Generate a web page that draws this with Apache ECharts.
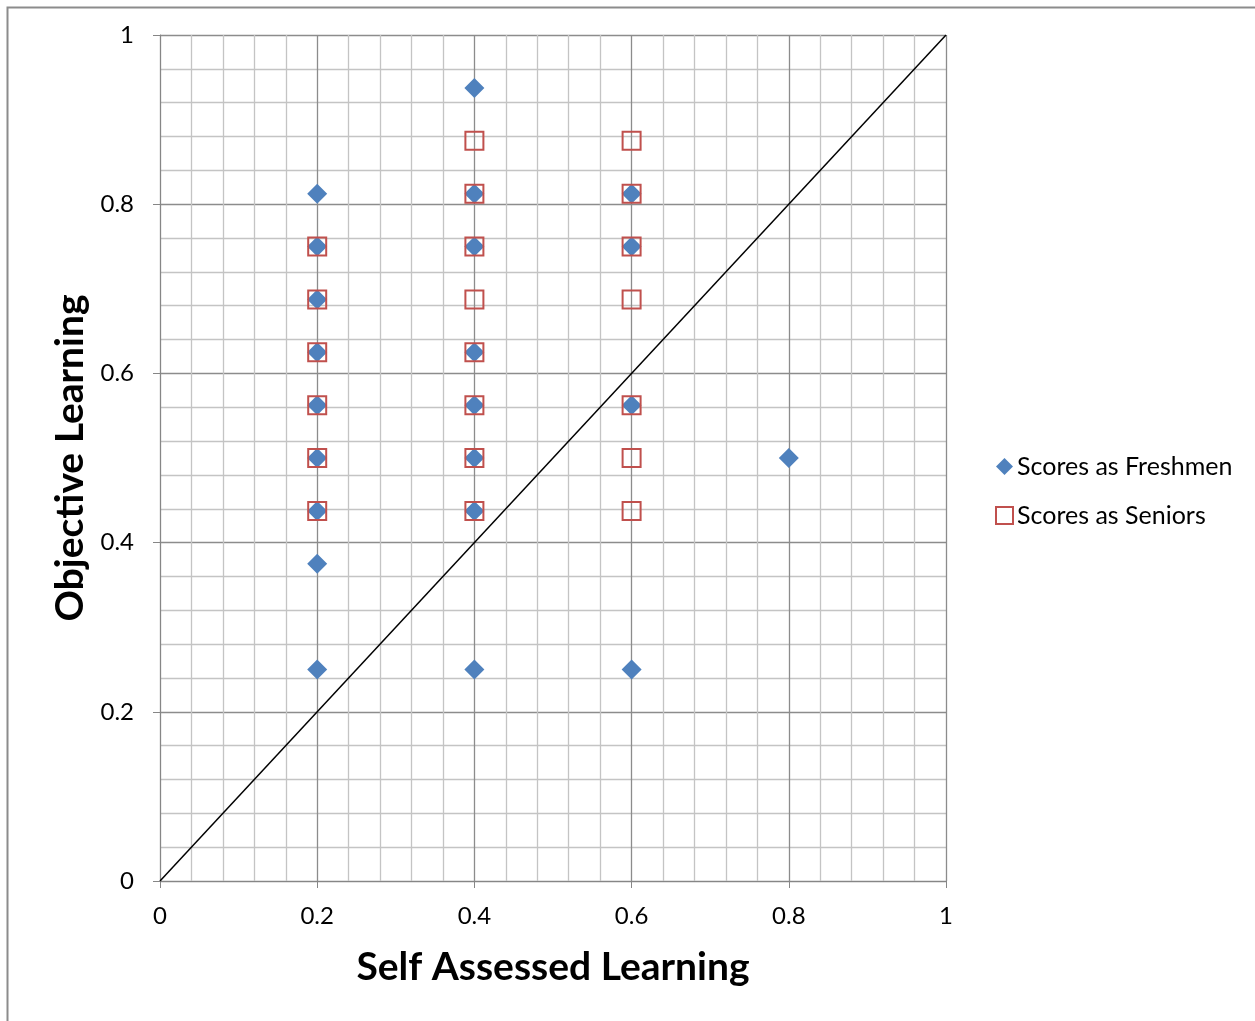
<!DOCTYPE html>
<html>
<head>
<meta charset="utf-8">
<script src="https://cdn.jsdelivr.net/npm/echarts@6/dist/echarts.min.js"></script>
<style>
html,body{margin:0;padding:0;background:#fff;}
#chart{width:1255px;height:1021px;}
</style>
</head>
<body>
<div id="chart"></div>
<script>
// Data
const freshmenX = [0.2,0.2,0.2,0.2,0.2,0.2,0.2,0.2,0.2, 0.4,0.4,0.4,0.4,0.4,0.4,0.4,0.4, 0.6,0.6,0.6,0.6, 0.8];
const freshmenY = [0.8125,0.75,0.6875,0.625,0.5625,0.5,0.4375,0.375,0.25, 0.9375,0.8125,0.75,0.625,0.5625,0.5,0.4375,0.25, 0.8125,0.75,0.5625,0.25, 0.5];
const seniorsX = [0.2,0.2,0.2,0.2,0.2,0.2, 0.4,0.4,0.4,0.4,0.4,0.4,0.4,0.4, 0.6,0.6,0.6,0.6,0.6,0.6,0.6];
const seniorsY = [0.75,0.6875,0.625,0.5625,0.5,0.4375, 0.875,0.8125,0.75,0.6875,0.625,0.5625,0.5,0.4375, 0.875,0.8125,0.75,0.6875,0.5625,0.5,0.4375];
const diagonalX = [0, 1];
const diagonalY = [0, 1];
const seriesNames = ['Scores as Freshmen', 'Scores as Seniors'];
const xTitle = 'Self Assessed Learning';
const yTitle = 'Objective Learning';

const zip = (a, b) => a.map((v, i) => [v, b[i]]);
const FONT = 'Lato, "Open Sans", sans-serif';

const chart = echarts.init(document.getElementById('chart'));
const axisCommon = {
  type: 'value', min: 0, max: 1, interval: 0.2,
  nameLocation: 'middle',
  nameTextStyle: { fontFamily: FONT, fontSize: 39, fontWeight: 'bold', color: '#000' },
  axisLine: { show: true, lineStyle: { color: '#868686', width: 1 } },
  axisTick: { show: true, inside: false, length: 7, lineStyle: { color: '#868686' } },
  axisLabel: { fontFamily: FONT, fontSize: 24, color: '#000', margin: 23 },
  splitLine: { show: true, lineStyle: { color: '#8c8c8c', width: 1.3 } },
  minorTick: { show: false, splitNumber: 5 },
  minorSplitLine: { show: true, lineStyle: { color: '#c4c4c4', width: 1.3 } }
};
chart.setOption({
  animation: false,
  backgroundColor: '#fff',
  graphic: [{
    type: 'rect', left: 5, top: 5, silent: true,
    shape: { width: 1300, height: 1100 },
    style: { fill: 'none', stroke: '#8c8c8c', lineWidth: 2 }
  }],
  grid: { left: 160, top: 35, right: 309, bottom: 140, containLabel: false },
  legend: {
    orient: 'vertical', left: 990, top: 449, itemGap: 24,
    itemWidth: 17, itemHeight: 17,
    textStyle: { fontFamily: FONT, fontSize: 25, color: '#000', padding: [0, 0, 0, -1] },
    data: seriesNames
  },
  xAxis: Object.assign({}, axisCommon, { name: xTitle, nameGap: 67 }),
  yAxis: Object.assign({}, axisCommon, {
    name: yTitle, nameGap: 69,
    axisLabel: Object.assign({}, axisCommon.axisLabel, { margin: 26 })
  }),
  series: [
    {
      type: 'line', data: zip(diagonalX, diagonalY), symbol: 'none', silent: true,
      lineStyle: { color: '#000', width: 1.5 }, z: 1
    },
    {
      name: seriesNames[0], type: 'scatter', data: zip(freshmenX, freshmenY),
      symbol: 'diamond', symbolSize: 20,
      itemStyle: { color: '#4f81bd', opacity: 1 }, z: 3
    },
    {
      name: seriesNames[1], type: 'scatter', data: zip(seniorsX, seniorsY),
      symbol: 'rect', symbolSize: 18,
      itemStyle: { color: 'rgba(0,0,0,0)', borderColor: '#c0504d', borderWidth: 2, opacity: 1 }, z: 4
    }
  ]
});
</script>
</body>
</html>
